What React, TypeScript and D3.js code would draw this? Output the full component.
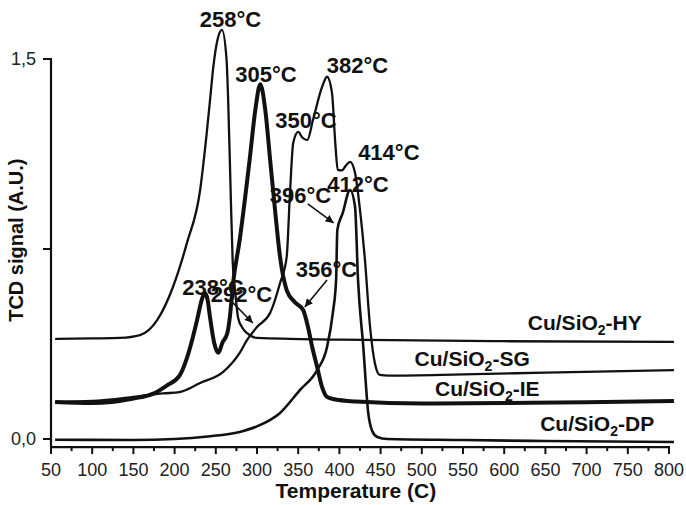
import React from 'react';
import * as d3 from 'd3';

// TPR profiles, temperature (C) vs TCD signal (A.U.)
const hyTemp = [55, 100, 134, 158, 179, 198, 215, 231, 239, 243, 247, 252, 257.5, 263, 265, 268, 270.5, 273, 277, 282, 288, 300, 400, 600, 806];
const hySignal = [0.395, 0.397, 0.399, 0.41, 0.47, 0.6, 0.774, 0.983, 1.208, 1.338, 1.469, 1.575, 1.615, 1.5, 1.338, 0.98, 0.7, 0.6, 0.48, 0.44, 0.418, 0.399, 0.392, 0.386, 0.383];

const sgTemp = [55, 100, 150, 186, 206, 231, 259, 279, 288, 300, 316, 328, 336, 340, 344, 350, 355, 361, 368, 379, 385, 391, 395, 398, 403, 408, 413, 419, 425, 431, 437, 443, 449, 460, 550, 650, 806];
const sgSignal = [0.146, 0.15, 0.166, 0.18, 0.185, 0.221, 0.265, 0.34, 0.391, 0.442, 0.498, 0.616, 0.718, 0.97, 1.169, 1.212, 1.19, 1.18, 1.26, 1.39, 1.43, 1.366, 1.169, 1.062, 1.06, 1.08, 1.094, 1.05, 0.904, 0.707, 0.45, 0.3, 0.253, 0.25, 0.255, 0.262, 0.272];

const ieTemp = [55, 100, 150, 175, 190, 206, 215, 222, 228, 233, 237, 240, 243, 248, 253, 258, 264, 267, 271, 279, 291, 298, 304, 310, 316, 322, 328, 336, 346, 356, 362, 367, 373, 379, 385, 392, 420, 500, 600, 700, 806];
const ieSignal = [0.146, 0.142, 0.16, 0.18, 0.21, 0.25, 0.32, 0.4, 0.48, 0.55, 0.575, 0.55, 0.48, 0.38, 0.34, 0.38, 0.418, 0.48, 0.616, 0.786, 1.1, 1.3, 1.4, 1.3, 1.1, 0.9, 0.718, 0.588, 0.54, 0.509, 0.44, 0.363, 0.284, 0.205, 0.166, 0.158, 0.148, 0.14, 0.142, 0.145, 0.15];

const dpTemp = [55, 150, 200, 240, 279, 300, 328, 352, 373, 385, 392, 396, 397.5, 404, 413, 419, 422.6, 429, 435, 440, 446, 458, 550, 650, 806];
const dpSignal = [-0.003, -0.004, 0, 0.01, 0.028, 0.05, 0.103, 0.193, 0.272, 0.363, 0.497, 0.628, 0.825, 0.892, 0.983, 0.916, 0.628, 0.363, 0.103, 0.03, 0.008, 0, -0.004, -0.008, -0.012];

const xTicks = [50, 100, 150, 200, 250, 300, 350, 400, 450, 500, 550, 600, 650, 700, 750, 800];
const xMinorTicks = [75, 125, 175, 225, 275, 325, 375, 425, 475, 525, 575, 625, 675, 725, 775];
const yTicks = [0, 0.75, 1.5];
const yTickLabels = ['0,0', '', '1,5'];

// peak annotations (centre temperature, baseline signal)
const peakText = ['258°C', '305°C', '382°C', '350°C', '414°C', '412°C', '396°C', '238°C', '292°C', '356°C'];
const peakTemp = [267.8, 311, 422, 359.5, 460, 422.6, 352.8, 246.6, 281.2, 384.3];
const peakSignal = [1.627, 1.409, 1.445, 1.228, 1.101, 0.975, 0.932, 0.569, 0.541, 0.64];

const arrowFromTemp = [361.6, 267.2, 385];
const arrowFromSignal = [0.928, 0.549, 0.628];
const arrowToTemp = [393, 295, 358];
const arrowToSignal = [0.853, 0.458, 0.521];

const seriesNames = ['HY', 'SG', 'IE', 'DP'];
const seriesLabelTemp = [767, 631, 643, 782];
const seriesLabelSignal = [0.43, 0.288, 0.17, 0.032];

const FONT = 'Liberation Sans, Arial, Helvetica, sans-serif';

const App = () => {
  const x = d3.scaleLinear().domain([50, 800]).range([51, 669]);
  const y = d3.scaleLinear().domain([0, 1.5]).range([439, 59]);
  const axisY = y(-0.032);

  const line = d3
    .line<[number, number]>()
    .x((d) => x(d[0]))
    .y((d) => y(d[1]))
    .curve(d3.curveMonotoneX);

  const series = [
    { t: hyTemp, v: hySignal, w: 2.3 },
    { t: sgTemp, v: sgSignal, w: 2.3 },
    { t: ieTemp, v: ieSignal, w: 4 },
    { t: dpTemp, v: dpSignal, w: 2.6 },
  ];

  return (
    <svg
      width={686}
      height={505}
      style={{ position: 'absolute', left: 0, top: 0, background: '#fff' }}
      fontFamily={FONT}
    >
      <defs>
        <marker
          id="arrow"
          viewBox="0 0 10 10"
          refX={10}
          refY={5}
          markerWidth={9}
          markerHeight={8}
          markerUnits="userSpaceOnUse"
          orient="auto"
        >
          <path d="M0,0 L10,5 L0,10 z" fill="#111" />
        </marker>
      </defs>

      {/* curves */}
      {series.map((s, i) => (
        <path
          key={i}
          d={line(s.t.map((t, j) => [t, s.v[j]] as [number, number])) || ''}
          fill="none"
          stroke="#111"
          strokeWidth={s.w}
          strokeLinejoin="round"
        />
      ))}

      {/* x axis */}
      <line x1={x(50) - 1} x2={x(800) + 1} y1={axisY} y2={axisY} stroke="#111" strokeWidth={2.2} />
      {xTicks.map((t) => (
        <g key={t}>
          <line x1={x(t)} x2={x(t)} y1={axisY} y2={axisY + 7} stroke="#111" strokeWidth={2} />
          <text x={x(t)} y={axisY + 29} textAnchor="middle" fontSize={18} fill="#222">
            {t}
          </text>
        </g>
      ))}
      {xMinorTicks.map((t) => (
        <line key={t} x1={x(t)} x2={x(t)} y1={axisY} y2={axisY + 4} stroke="#111" strokeWidth={2} />
      ))}

      {/* y axis */}
      <line x1={x(50)} x2={x(50)} y1={y(1.5) - 1} y2={axisY} stroke="#111" strokeWidth={2.2} />
      {yTicks.map((v, i) => (
        <g key={v}>
          <line x1={x(50) - 8} x2={x(50)} y1={y(v)} y2={y(v)} stroke="#111" strokeWidth={2} />
          <text x={36} y={y(v)} dy="0.36em" textAnchor="end" fontSize={18} fill="#222">
            {yTickLabels[i]}
          </text>
        </g>
      ))}

      {/* axis titles */}
      <text x={x(420)} y={498} textAnchor="middle" fontSize={21} fontWeight="bold" fill="#111">
        Temperature (C)
      </text>
      <text
        transform={`translate(23, ${y(0.785)}) rotate(-90)`}
        textAnchor="middle"
        fontSize={20}
        fontWeight="bold"
        fill="#111"
      >
        TCD signal (A.U.)
      </text>

      {/* peak annotations */}
      {peakText.map((p, i) => (
        <text
          key={p}
          x={x(peakTemp[i])}
          y={y(peakSignal[i])}
          textAnchor="middle"
          fontSize={22}
          fontWeight="bold"
          fill="#111"
        >
          {p}
        </text>
      ))}
      {arrowFromTemp.map((t, i) => (
        <line
          key={i}
          x1={x(t)}
          y1={y(arrowFromSignal[i])}
          x2={x(arrowToTemp[i])}
          y2={y(arrowToSignal[i])}
          stroke="#111"
          strokeWidth={1.6}
          markerEnd="url(#arrow)"
        />
      ))}

      {/* series labels */}
      {seriesNames.map((n, i) => (
        <text
          key={n}
          x={x(seriesLabelTemp[i])}
          y={y(seriesLabelSignal[i])}
          textAnchor="end"
          fontSize={21}
          fontWeight="bold"
          fill="#111"
        >
          Cu/SiO
          <tspan fontSize={14} dy={5}>
            2
          </tspan>
          <tspan dy={-5}>-{n}</tspan>
        </text>
      ))}
    </svg>
  );
};

export default App;
